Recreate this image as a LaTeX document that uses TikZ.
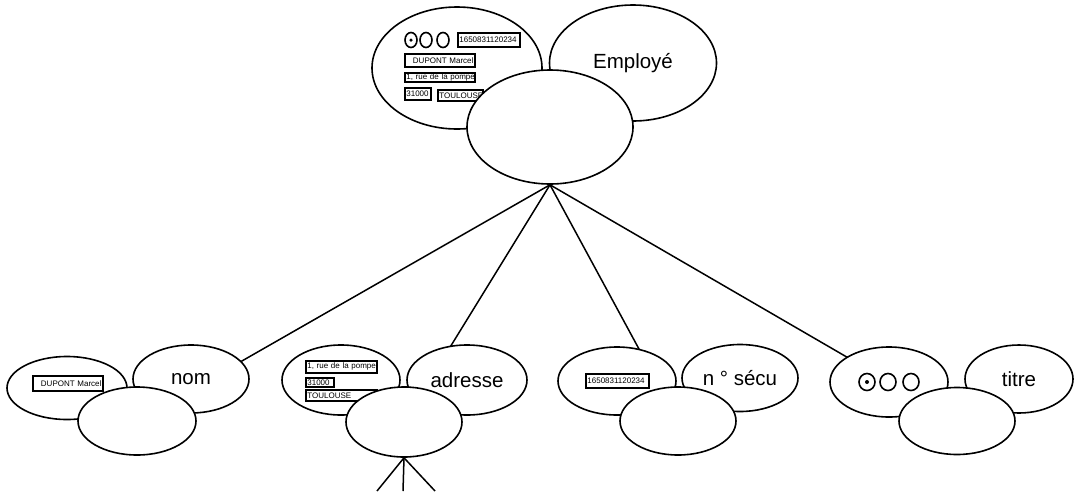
\documentclass[tikz,border=0pt]{standalone}
\usepackage{fontspec}
\setmainfont{Liberation Sans}
\usetikzlibrary{shapes.geometric, backgrounds}

\begin{document}
\begin{tikzpicture}[x=1pt, y=-1pt,
        blob/.style={ellipse, draw, line width=1.6pt, fill=white, inner sep=0pt},
        tag/.style={blob, font=\fontsize{20.5}{24}\selectfont},
        field/.style={rectangle, draw, line width=1.8pt, anchor=north west, inner xsep=1.5pt, inner ysep=0pt, align=left, font=\fontsize{8}{9}\selectfont},
        radio/.style={ellipse, draw, line width=1.6pt, inner sep=0pt, minimum width=12, minimum height=15},
        bigradio/.style={radio, minimum width=16, minimum height=17},
        dot/.style={circle, fill, inner sep=0pt, minimum size=4},
        line/.style={draw, line width=1.5pt}]

        \useasboundingbox (0,0) rectangle (1074,491);

        \node [blob, minimum width=170, minimum height=122] (empdata) at (457,68) {};
        \node [radio] (empr1) at (411,40) {};
        \node [dot, minimum size=3.5] (empdot) at (empr1) {};
        \node [radio] (empr2) at (426,40) {};
        \node [radio] (empr3) at (443,40) {};
        \node [field, text width=59, minimum height=14] (empsecu) at (457,32) {\mbox{1650831120234}};
        \node [field, text width=67, minimum height=13, align=right] (empnom) at (404,53) {\mbox{DUPONT Marcel}};
        \node [field, text width=67, minimum height=9] (emprue) at (404,72) {\mbox{1, rue de la pompe}};
        \node [field, text width=23, minimum height=12] (empcp) at (404,87) {\mbox{31000}};
        \node [field, text width=42, minimum height=11] (empville) at (437,89) {\mbox{TOULOUSE}};
        \node [tag, minimum width=167, minimum height=116] (emptag) at (633,63) {Employé};
        \node [blob, minimum width=166, minimum height=114] (root) at (550,127) {};

        \node [blob, minimum width=120, minimum height=63] (nomdata) at (67,388) {};
        \node [field, text width=67, minimum height=15, align=right] (nomfield) at (32,375) {\mbox{DUPONT Marcel}};
        \node [tag, minimum width=116, minimum height=68] (nomtag) at (191,379) {nom};
        \node [blob, minimum width=118, minimum height=68] (nomlink) at (137,421) {};

        \node [blob, minimum width=118, minimum height=70] (adrdata) at (341,380) {};
        \node [field, text width=68, minimum height=12] (adrrue) at (305,360) {\mbox{1, rue de la pompe}};
        \node [field, text width=25, minimum height=9] (adrcp) at (305,377) {\mbox{31000}};
        \node [field, text width=68, minimum height=11] (adrville) at (305,389) {\mbox{TOULOUSE}};
        \node [tag, minimum width=120, minimum height=70] (adrtag) at (467,380) {adresse};
        \node [blob, minimum width=116, minimum height=70] (adrlink) at (404,422) {};

        \node [blob, minimum width=118, minimum height=68] (secdata) at (617,381) {};
        \node [field, text width=60, minimum height=14] (secfield) at (585,373) {\mbox{1650831120234}};
        \node [tag, minimum width=116, minimum height=67] (sectag) at (740,378) {n ° sécu};
        \node [blob, minimum width=116, minimum height=68] (seclink) at (678,421) {};

        \node [blob, minimum width=118, minimum height=70] (titdata) at (889,382) {};
        \node [bigradio] (titr1) at (867,382) {};
        \node [dot] (titdot) at (titr1) {};
        \node [bigradio] (titr2) at (888,382) {};
        \node [bigradio] (titr3) at (911,382) {};
        \node [tag, minimum width=108, minimum height=68] (tittag) at (1019,379) {titre};
        \node [blob, minimum width=116, minimum height=67] (titlink) at (957,421) {};

        \coordinate (down1) at (377,491);
        \coordinate (down2) at (403,491);
        \coordinate (down3) at (435,491);

        \begin{scope}[on background layer]
            \path [line] (root.south) -- (nomlink);
            \path [line] (root.south) -- (adrlink);
            \path [line] (root.south) -- (seclink);
            \path [line] (root.south) -- (titlink);
        \end{scope}
        \path [line] (adrlink.south) -- (down1);
        \path [line] (adrlink.south) -- (down2);
        \path [line] (adrlink.south) -- (down3);
    \end{tikzpicture}
\end{document}
